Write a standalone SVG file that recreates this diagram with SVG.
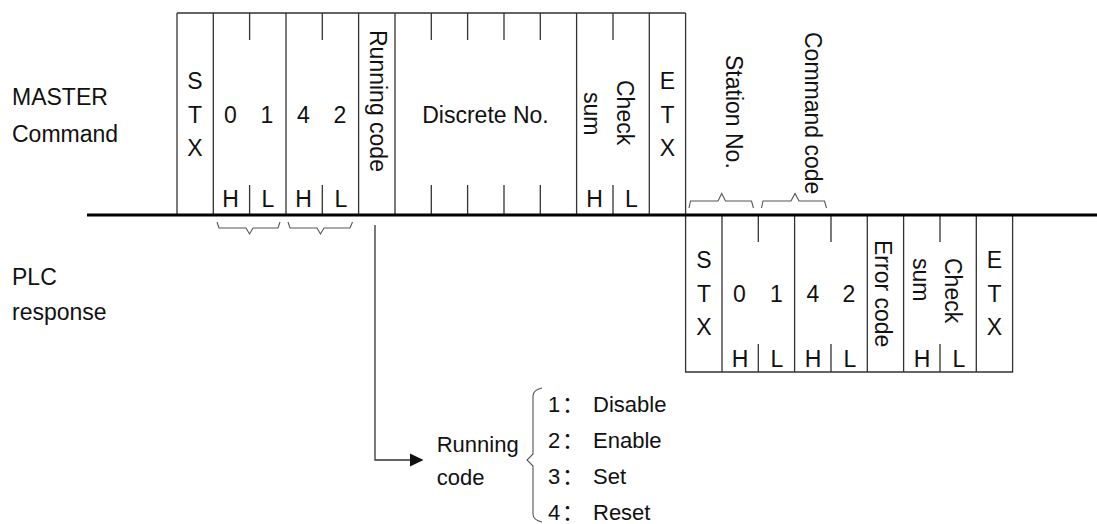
<svg xmlns="http://www.w3.org/2000/svg" width="1097" height="524" viewBox="0 0 1097 524">
<style>
.t{font-family:"Liberation Sans",Arial,sans-serif;font-size:23px;fill:#111}
.c{font-family:"Liberation Sans",Arial,sans-serif;font-size:23px;fill:#111;text-anchor:middle}
.l{font-family:"Liberation Sans",Arial,sans-serif;font-size:22px;fill:#111}
.k{font-family:"Noto Sans CJK SC",sans-serif}
.f{fill:none;stroke:#333;stroke-width:1.3}
.b{fill:none;stroke:#555;stroke-width:1.1}
</style>
<rect width="1097" height="524" fill="#fff"/>
<g id="labels">
<text class="t" x="12" y="105">MASTER</text>
<text class="t" x="12" y="141.7">Command</text>
<text class="t" x="12" y="285">PLC</text>
<text class="t" x="12" y="320">response</text>
</g>
<g id="master-frame">
<path class="f" d="M177,13H685.6M177,13V215M213.3,13V215M286,13V215M358.6,13V215M395,13V215M576.6,13V215M649.3,13V215M685.6,13V215"/>
<path class="f" d="M249.6,13V40M249.6,185V215M322.3,13V40M322.3,185V215M431.3,13V40M431.3,185V215M467.6,13V40M467.6,185V215M504,13V40M504,185V215M540.3,13V40M540.3,185V215M613,13V40M613,185V215"/>
<text class="c" x="195" y="89">S</text><text class="c" x="195" y="123">T</text><text class="c" x="195" y="156">X</text>
<text class="c" x="230.5" y="122.7">0</text><text class="c" x="267" y="122.7">1</text>
<text class="c" x="303.5" y="122.7">4</text><text class="c" x="340" y="122.7">2</text>
<text class="c" x="230.5" y="206.5">H</text><text class="c" x="268" y="206.5">L</text>
<text class="c" x="303.5" y="206.5">H</text><text class="c" x="341" y="206.5">L</text>
<text class="t" transform="translate(370,30) rotate(90)">Running code</text>
<text class="c" x="485.5" y="122.7">Discrete No.</text>
<text class="t" transform="translate(617,80) rotate(90)">Check</text>
<text class="t" transform="translate(584,92) rotate(90)">sum</text>
<text class="c" x="594.5" y="206.5">H</text><text class="c" x="631.5" y="206.5">L</text>
<text class="c" x="667.5" y="89">E</text><text class="c" x="667.5" y="123">T</text><text class="c" x="667.5" y="156">X</text>
<text class="t" transform="translate(726,55) rotate(90)">Station No.</text>
<text class="t" transform="translate(805,32) rotate(90)">Command code</text>
</g>
<g id="plc-frame">
<path class="f" d="M685.6,215V372H1012.6V215M722,215V372M794.6,215V372M867.3,215V372M903.6,215V372M976.3,215V372"/>
<path class="f" d="M758.3,215V242M758.3,344V372M831,215V242M831,344V372M940,215V242M940,344V372"/>
<text class="c" x="704" y="268">S</text><text class="c" x="704" y="302">T</text><text class="c" x="704" y="335">X</text>
<text class="c" x="739.5" y="301.7">0</text><text class="c" x="776.5" y="301.7">1</text>
<text class="c" x="812.8" y="301.7">4</text><text class="c" x="849" y="301.7">2</text>
<text class="c" x="740" y="366.7">H</text><text class="c" x="777" y="366.7">L</text>
<text class="c" x="813" y="366.7">H</text><text class="c" x="850" y="366.7">L</text>
<text class="t" transform="translate(875,240) rotate(90)">Error code</text>
<text class="t" transform="translate(945,258) rotate(90)">Check</text>
<text class="t" transform="translate(913,258) rotate(90)">sum</text>
<text class="c" x="922" y="366.7">H</text><text class="c" x="959" y="366.7">L</text>
<text class="c" x="994.5" y="268">E</text><text class="c" x="994.5" y="302">T</text><text class="c" x="994.5" y="335">X</text>
</g>
<g id="running-code-legend">
<text class="l" x="436.7" y="451.7">Running</text>
<text class="l" x="436.7" y="485">code</text>
<path class="b" d="M542,388Q533,390 533,396V454L527,460L533,466V514Q533,520 542,522"/>
<text class="l"><tspan x="548" y="411.5">1</tspan><tspan class="k" x="562">：</tspan><tspan x="593">Disable</tspan></text>
<text class="l"><tspan x="548" y="447.5">2</tspan><tspan class="k" x="562">：</tspan><tspan x="593">Enable</tspan></text>
<text class="l"><tspan x="548" y="483.5">3</tspan><tspan class="k" x="562">：</tspan><tspan x="593">Set</tspan></text>
<text class="l"><tspan x="548" y="519.5">4</tspan><tspan class="k" x="562">：</tspan><tspan x="593">Reset</tspan></text>
</g>
<g id="connectors">
<line x1="87" y1="215" x2="1097" y2="215" stroke="#000" stroke-width="3"/>
<path class="b" d="M217,222L219,228H246L249.5,234L253,228H278L280,222"/>
<path class="b" d="M288,222L290,228H317L320.5,234L324,228H350L352.5,222"/>
<path class="b" d="M689,208L690.5,201H718L721.7,193.5L725.5,201H751.5L753.5,208"/>
<path class="b" d="M761.5,208L763,201H791L795,193.5L799,201H824.5L826.5,208"/>
<path class="f" d="M375,225V460H412"/>
<polygon points="410,453.5 423.5,460 410,466.5" fill="#111"/>
</g>
</svg>
